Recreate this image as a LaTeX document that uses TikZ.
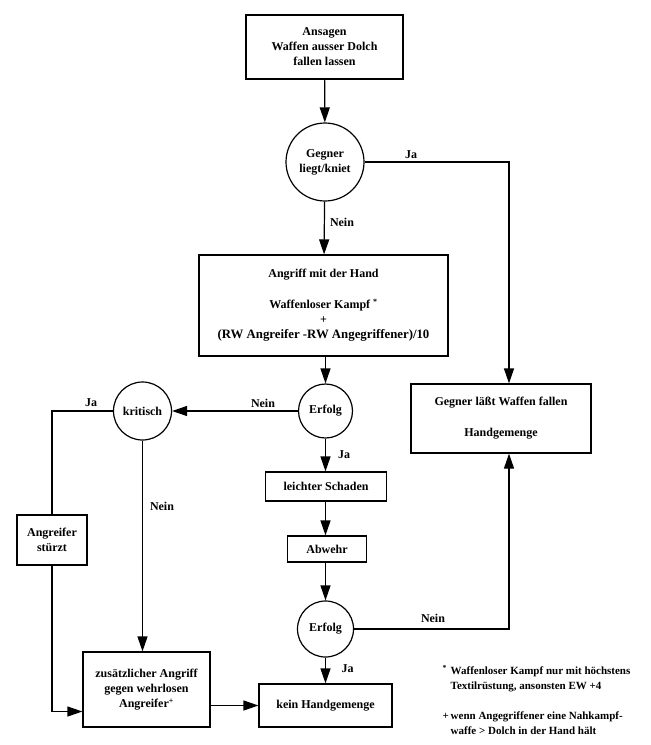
\documentclass[tikz,border=0pt]{standalone}
\usepackage{fontspec}
\setmainfont{Liberation Serif}
\usepackage{tikz}
\usetikzlibrary{positioning,arrows.meta}

\begin{document}
\begin{tikzpicture}[x=1pt,y=-1pt,line width=1.2pt,
    every node/.style={font=\fontsize{12}{15}\selectfont\bfseries},
    kasten/.style={draw,rectangle,align=center,inner sep=0pt},
    frage/.style={draw,circle,align=center,inner sep=0pt},
    pfeil/.style={-{Triangle[length=15pt,width=10pt]}}]
  \useasboundingbox (0,0) rectangle (651,745);
  \node[kasten,minimum width=157,minimum height=64] (ansagen) at (324.5,47) {Ansagen\\Waffen ausser Dolch\\fallen lassen};
  \node[frage,minimum size=78] (gegner) at (325,162) {Gegner\\liegt/kniet};
  \node[kasten,minimum width=249,minimum height=101] (angriff) at (323.5,305.5)
    {Angriff mit der Hand\\[16pt]Waffenloser Kampf \textsuperscript{*}\\+\\{\fontsize{12.8}{15}\selectfont(RW Angreifer -RW Angegriffener)/10}};
  \node[frage,minimum size=54] (erfolgA) at (325.5,411) {Erfolg};
  \node[frage,minimum size=58] (kritisch) at (142.5,411) {kritisch};
  \node[kasten,minimum width=180,minimum height=69] (laesst) at (501,418.5) {Gegner läßt Waffen fallen\\[16pt]Handgemenge};
  \node[kasten,minimum width=121,minimum height=29] (leicht) at (326,486.5) {leichter Schaden};
  \node[kasten,minimum width=79,minimum height=26] (abwehr) at (327,549) {Abwehr};
  \node[frage,minimum size=56] (erfolgB) at (325.5,629) {Erfolg};
  \node[kasten,minimum width=70,minimum height=50] (stuerzt) at (52,540) {Angreifer\\stürzt};
  \node[kasten,minimum width=127,minimum height=75] (zusatz) at (146.5,689.5) {zusätzlicher Angriff\\gegen wehrlosen\\Angreifer\textsuperscript{+}};
  \node[kasten,minimum width=133,minimum height=43] (kein) at (325.5,705.5) {kein Handgemenge};
  \node[anchor=north west,align=left,inner sep=0pt,font=\fontsize{11}{15}\selectfont\bfseries] (fussnote) at (442,663)
    {\begin{tabular}{@{}l@{\,}l@{}}\textsuperscript{*} & Waffenloser Kampf nur mit höchstens\\
     & Textilrüstung, ansonsten EW +4\\[15pt]
     + & wenn Angegriffener eine Nahkampf-\\
     & waffe > Dolch in der Hand hält\end{tabular}};

  \draw[pfeil] (ansagen) -- (gegner);
  \draw[pfeil] (gegner) -- (angriff);
  \draw[pfeil] (gegner.east) -| ([xshift=8pt]laesst.north);
  \draw[pfeil] (angriff.south -| erfolgA) -- (erfolgA);
  \draw[pfeil] (erfolgA) -- (kritisch);
  \draw[pfeil] (erfolgA) -- (leicht.north -| erfolgA);
  \draw[pfeil] (leicht.south -| erfolgA) -- (abwehr.north -| erfolgA);
  \draw[pfeil] (abwehr.south -| erfolgB) -- (erfolgB);
  \draw[pfeil] (erfolgB.east) -| ([xshift=8pt]laesst.south);
  \draw[pfeil] (erfolgB) -- (kein);
  \draw (kritisch.west) -| (stuerzt.north);
  \draw[pfeil] (kritisch.south) -- (kritisch.south |- zusatz.north);
  \draw[pfeil] (stuerzt.south) |- ([yshift=-22pt]zusatz.west);
  \draw[pfeil] (zusatz.east |- kein.west) -- (kein.west);

  \node (jaA) at (411,155) {Ja};
  \node (neinA) at (342,222) {Nein};
  \node (neinB) at (263,403) {Nein};
  \node (jaB) at (344,455) {Ja};
  \node (jaC) at (91,403) {Ja};
  \node (neinC) at (162,506) {Nein};
  \node (neinD) at (433,618) {Nein};
  \node (jaD) at (347.5,669) {Ja};
\end{tikzpicture}
\end{document}
